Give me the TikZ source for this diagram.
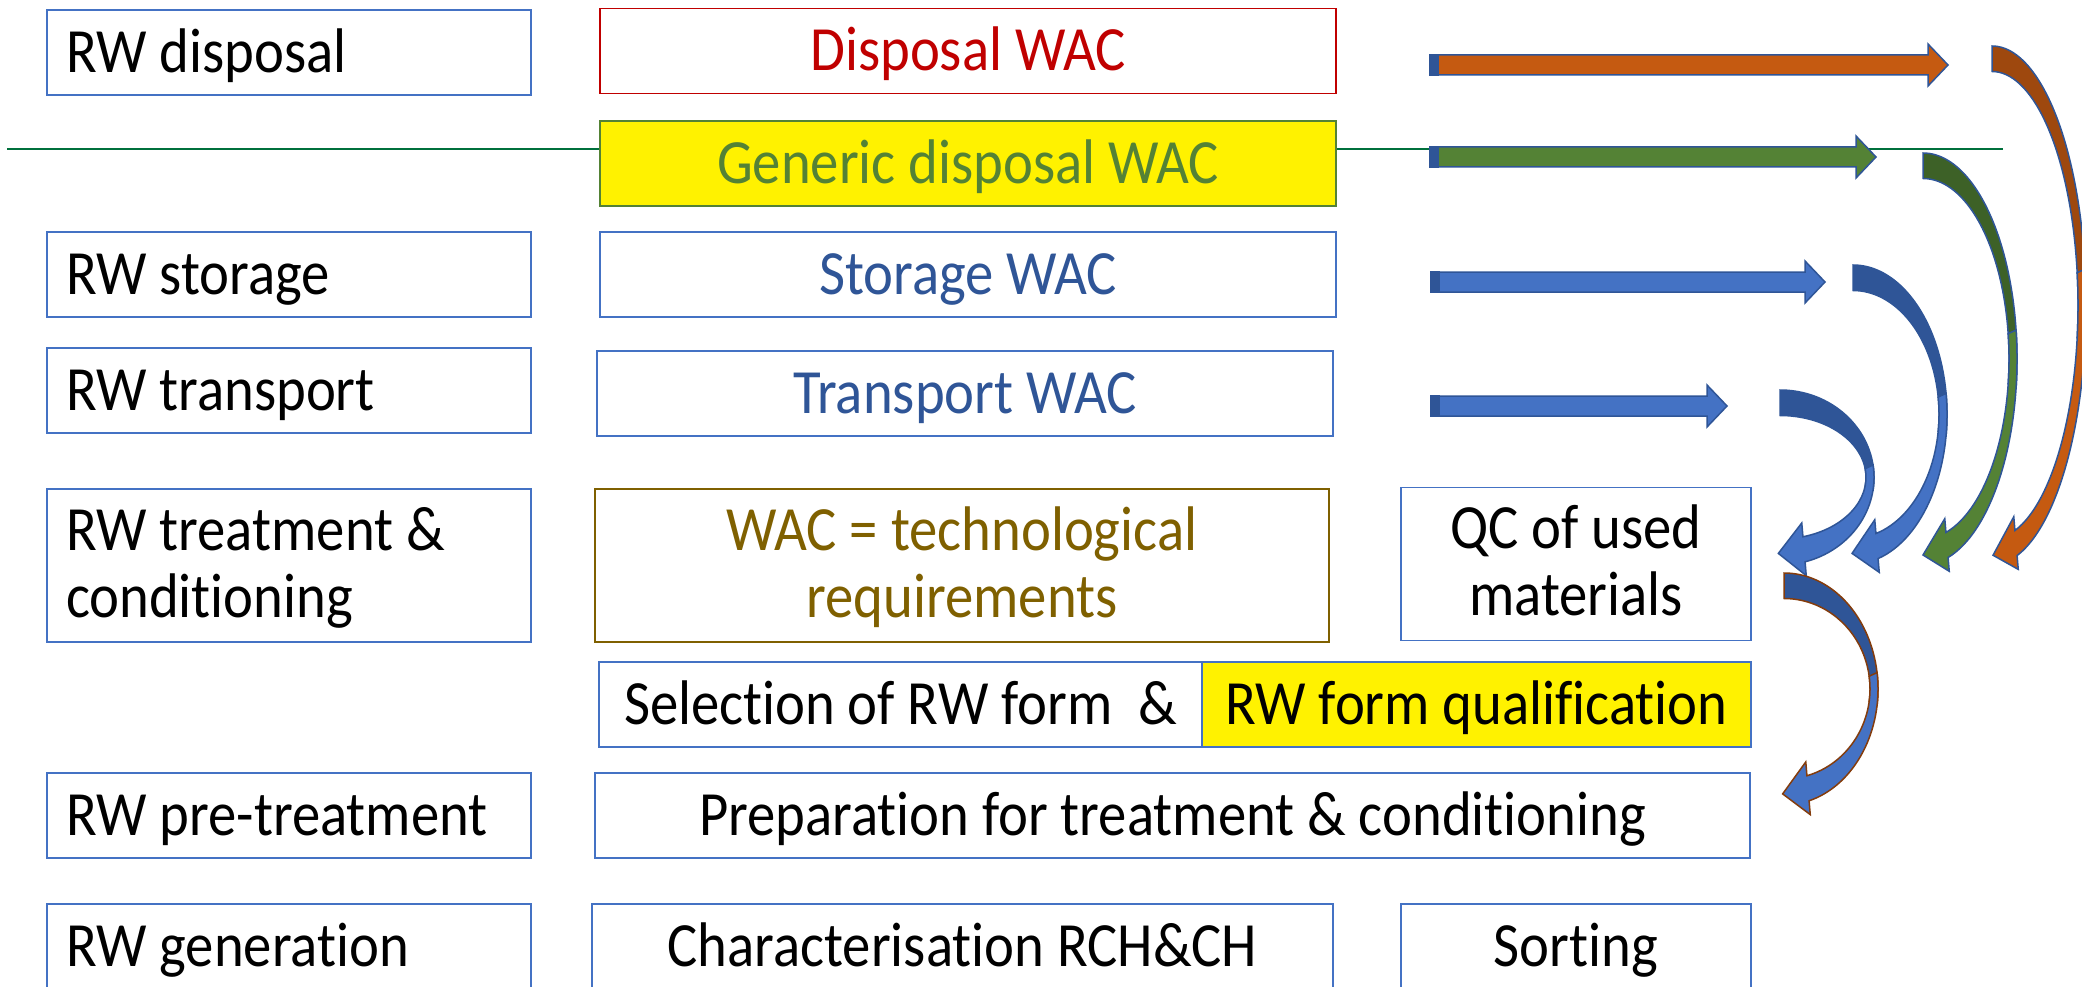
\documentclass[tikz,border=0pt]{standalone}
\usepackage{fontspec}
\setmainfont{Carlito}[FakeStretch=0.9, Ligatures=NoCommon]
\usetikzlibrary{calc}

\definecolor{boxblue}{HTML}{4472C4}
\definecolor{darkblue}{HTML}{2F5597}
\definecolor{wacred}{HTML}{C00000}
\definecolor{wacgreen}{HTML}{548235}
\definecolor{backgreen}{HTML}{3D6127}
\definecolor{wacolive}{HTML}{7F6000}
\definecolor{linegreen}{RGB}{0,112,60}
\definecolor{arroworange}{HTML}{C55A11}
\definecolor{backorange}{HTML}{9E480E}
\definecolor{qcbrown}{HTML}{843C0C}

\newcommand\boxfont{\fontsize{63}{67}\selectfont}

\tikzset{
  box/.style={draw=boxblue, line width=1.5pt, inner sep=0pt, minimum height=85pt,
    text height=52pt, text depth=12pt, font=\boxfont, align=center},
  stage/.style={box, text width=446pt, inner xsep=19pt, align=flush left},
  twoline/.style={minimum height=153pt, text height=115pt, text depth=12pt},
  twostage/.style={minimum height=153pt, text height=48pt, text depth=79pt},
  arrowline/.style={draw=darkblue, line width=1.5pt},
}

% straight block arrow: x left, x tip, y, fill
\newcommand\flatarrow[4]{%
  \draw[arrowline, fill=#4] (#1,#3-10) -- (#2-20,#3-10) -- (#2-20,#3-21) -- (#2,#3)
    -- (#2-20,#3+21) -- (#2-20,#3+10) -- (#1,#3+10) -- cycle;
  \fill[darkblue] (#1-1,#3-11) rectangle (#1+9,#3+11);
}

% curved block arrow: x, top y, tip y, back fill, front fill, border
\newcommand\bendarrow[6]{%
  \pgfmathsetmacro\kB{(#3+2-#2-12.5)/2}
  \pgfmathsetmacro\kCy{(#2+12.5+#3+2)/2}
  \pgfmathsetmacro\kRo{\kB+13}
  \pgfmathsetmacro\kRi{\kB-13}
  \pgfmathsetmacro\kTe{acos(24/90)}
  \pgfmathsetmacro\kOx{#1+94*cos(\kTe)}
  \pgfmathsetmacro\kOy{\kCy+\kRo*sin(\kTe)}
  \pgfmathsetmacro\kIx{#1+86*cos(\kTe)}
  \pgfmathsetmacro\kIy{\kCy+\kRi*sin(\kTe)}
  \pgfmathsetmacro\kDx{-90*sin(\kTe)}
  \pgfmathsetmacro\kDy{0.7*\kB*cos(\kTe)}
  \pgfmathsetmacro\kN{veclen(\kDx,\kDy)}
  \pgfmathsetmacro\kTx{(\kOx+\kIx)/2+26*\kDx/\kN}
  \pgfmathsetmacro\kTy{(\kOy+\kIy)/2+26*\kDy/\kN}
  \draw[arrowline, fill=#4, draw=#6] (#1,#2)
    arc[start angle=-90, end angle=8, x radius=94, y radius=\kRo]
    -- ({#1+86*cos(8)},{\kCy+\kRi*sin(8)})
    arc[start angle=8, end angle=-90, x radius=86, y radius=\kRi] -- cycle;
  \draw[arrowline, fill=#5, draw=#6] ({#1+94*cos(-8)},{\kCy+\kRo*sin(-8)})
    arc[start angle=-8, end angle=\kTe, x radius=94, y radius=\kRo]
    -- ({\kOx+0.55*(\kOx-\kIx)},{\kOy+0.55*(\kOy-\kIy)})
    -- (\kTx,\kTy)
    -- ({\kIx+0.55*(\kIx-\kOx)},{\kIy+0.55*(\kIy-\kOy)})
    -- (\kIx,\kIy)
    arc[start angle=\kTe, end angle=-8, x radius=86, y radius=\kRi] -- cycle;
}

\begin{document}
\begin{tikzpicture}[x=1pt, y=-1pt]
  \clip (0,0) rectangle (2082,987);
  \fill[white] (0,0) rectangle (2082,987);
  \draw[linegreen, line width=2pt] (7,149) -- (2003,149);

  % left column
  \node[stage] (rwdisp) at (289,52.5) {RW disposal};
  \node[stage] (rwstor) at (289,274.5) {RW storage};
  \node[stage] (rwtrans) at (289,390.5) {RW transport};
  \node[stage, twostage] (rwtreat) at (289,565.5) {RW treatment \&\\conditioning};
  \node[stage] (rwpre) at (289,815.5) {RW pre-treatment};
  \node[stage] (rwgen) at (289,946.5) {RW generation};

  % WAC column
  \node[box, draw=wacred, text=wacred, minimum width=736pt] (wacdisp) at (968,51) {Disposal WAC};
  \node[box, draw=wacgreen, fill=yellow, text=wacgreen, minimum width=736pt] (wacgen) at (968,163.5) {Generic disposal WAC};
  \node[box, text=darkblue, minimum width=736pt] (wacstor) at (968,274.5) {Storage WAC};
  \node[box, text=darkblue, minimum width=736pt] (wactrans) at (965,393.5) {Transport WAC};
  \node[box, twoline, draw=wacolive, text=wacolive, minimum width=734pt] (wactech) at (962,565.5) {WAC = technological\\requirements};
  \node[box, twoline, minimum width=350pt] (qcmat) at (1576,564) {QC of used\\materials};
  \node[box, minimum width=603pt] (selform) at (900.5,704.5) {Selection of RW form\ \ \&};
  \node[box, fill=yellow, minimum width=549pt] (qualform) at (1476.5,704.5) {RW form qualification};
  \node[box, minimum width=1155pt] (preptreat) at (1172.5,815.5) {Preparation for treatment \& conditioning};
  \node[box, minimum width=741pt] (charrch) at (962.5,946.5) {Characterisation RCH\&CH};
  \node[box, minimum width=350pt] (sortw) at (1576,946.5) {Sorting};

  % straight arrows
  \flatarrow{1430}{1948}{65}{arroworange}
  \flatarrow{1430}{1876}{157}{wacgreen}
  \flatarrow{1431}{1825}{282}{boxblue}
  \flatarrow{1431}{1727}{406}{boxblue}

  % curved arrows
  \bendarrow{1992}{46}{550}{backorange}{arroworange}{darkblue}
  \bendarrow{1923}{153}{550}{backgreen}{wacgreen}{darkblue}
  \bendarrow{1853}{265}{549}{darkblue}{boxblue}{darkblue}
  \bendarrow{1780}{390}{550}{darkblue}{boxblue}{darkblue}
  \bendarrow{1784}{573}{790}{darkblue}{boxblue}{qcbrown}
\end{tikzpicture}
\end{document}
